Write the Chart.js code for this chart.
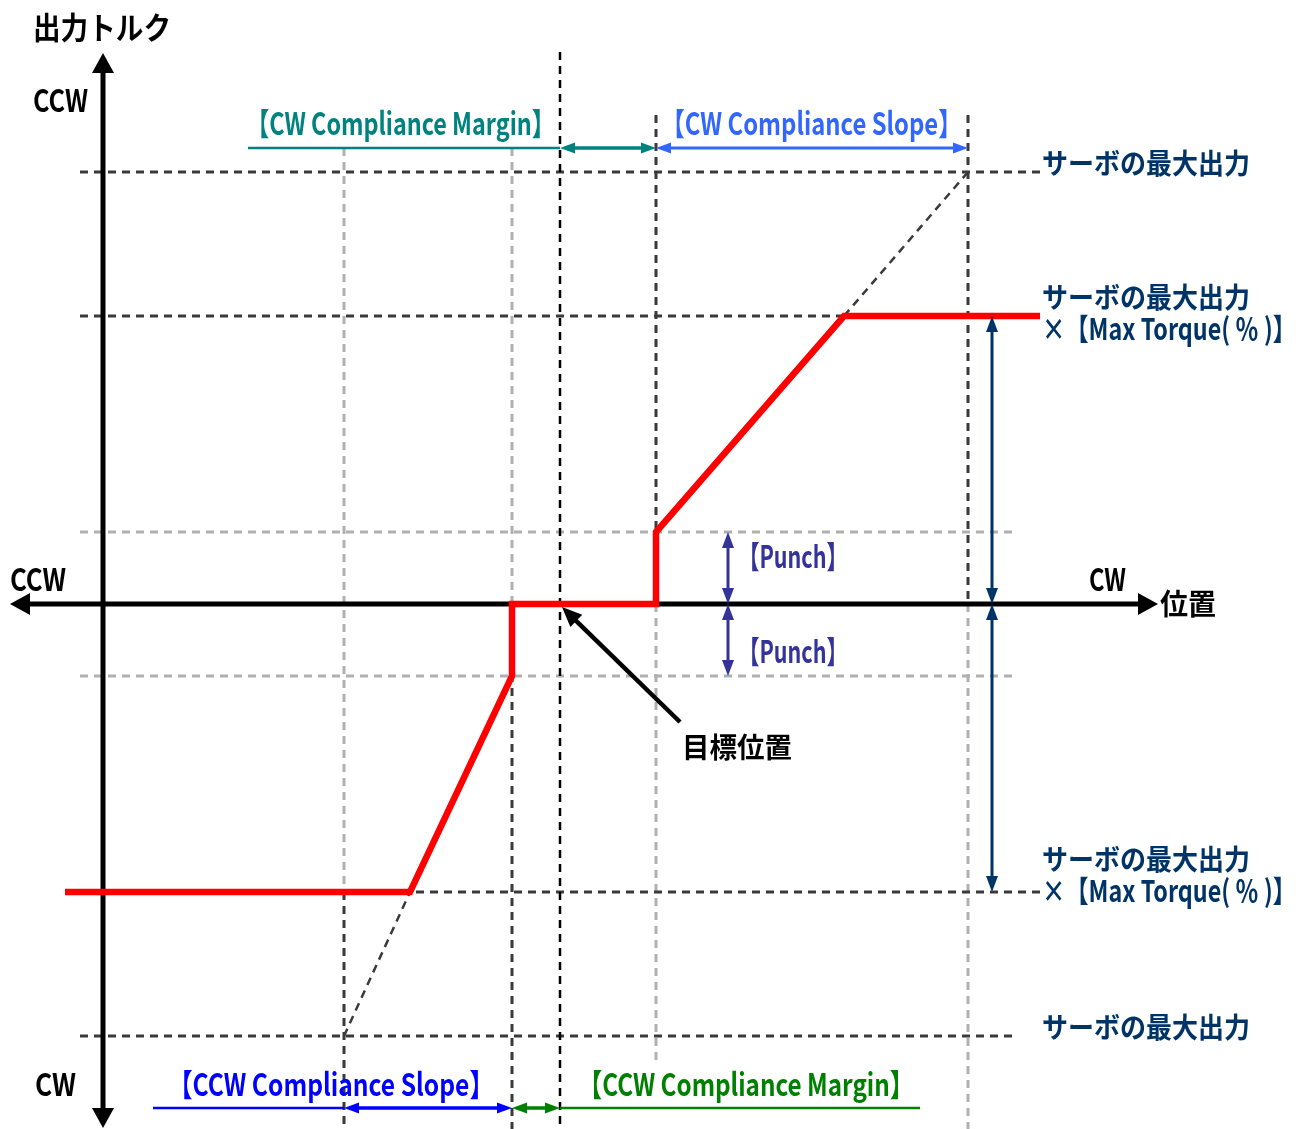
<!DOCTYPE html>
<html>
<head>
<meta charset="utf-8">
<script src="https://cdn.jsdelivr.net/npm/chart.js@4.4.1/dist/chart.umd.min.js"></script>
<style>
  body { margin: 0; background: #fff; }
  #wrap { width: 1298px; height: 1129px; }
</style>
</head>
<body>
<div id="wrap"><canvas id="mycanvas"></canvas></div>
<script>
// position 0 = target position, torque 0 = no output
var redPos    = [-495, -150, -48, -48, 96, 96, 284, 480];
var redTorque = [-288, -288, -72, 0, 0, 72, 288, 288];

var ccwSlope = [-216, -48];   // start / end of CCW compliance slope
var ccwMargin = [-48, 0];
var cwMargin = [0, 96];
var cwSlope = [96, 408];

var maxOut = 432;
var maxTorque = 288;
var punch = 72;

var DARK = '#3a3a3a';
var LIGHT = '#b0b0b0';

function seg(x1, y1, x2, y2) {
    return [{x: x1, y: y1}, {x: x2, y: y2}];
}

var datasets = [];
function addLine(pts, color, width, dash, order) {
    datasets.push({
        data: pts, borderColor: color, borderWidth: width, borderDash: dash || [],
        showLine: true, pointRadius: 0, fill: false, tension: 0, order: order
    });
}

// red torque curve
var redPts = [];
for (var i = 0; i < redPos.length; i++) {
    redPts.push({x: redPos[i], y: redTorque[i]});
}
addLine(redPts, '#ff0000', 6.5, null, 0);

// axes
addLine(seg(-536, 0, 582, 0), '#000', 5, null, 1);
addLine(seg(-457, 535, -457, -508), '#000', 5, null, 1);

// horizontal guides
addLine(seg(-480, maxOut, 480, maxOut), DARK, 3, [8, 6], 3);
addLine(seg(-480, maxTorque, 480, maxTorque), DARK, 3, [8, 6], 3);
addLine(seg(-480, punch, 455, punch), LIGHT, 3, [8, 6], 3);
addLine(seg(-480, -punch, 455, -punch), LIGHT, 3, [8, 6], 3);
addLine(seg(-480, -maxTorque, 480, -maxTorque), DARK, 3, [8, 6], 3);
addLine(seg(-480, -maxOut, 455, -maxOut), DARK, 3, [8, 6], 3);

// vertical guides
addLine(seg(ccwSlope[0], 456, ccwSlope[0], -maxTorque), LIGHT, 3, [8, 6], 3);
addLine(seg(ccwSlope[0], -maxTorque, ccwSlope[0], -525), DARK, 3, [8, 6], 3);
addLine(seg(ccwSlope[1], 456, ccwSlope[1], 0), LIGHT, 3, [8, 6], 3);
addLine(seg(ccwSlope[1], 0, ccwSlope[1], -525), DARK, 3, [8, 6], 3);
addLine(seg(0, 552, 0, -525), '#000', 2.5, [8, 6], 2);
addLine(seg(cwMargin[1], 489, cwMargin[1], 0), DARK, 3, [8, 6], 3);
addLine(seg(cwMargin[1], 0, cwMargin[1], -456), LIGHT, 3, [8, 6], 3);
addLine(seg(cwSlope[1], 489, cwSlope[1], 0), DARK, 3, [8, 6], 3);
addLine(seg(cwSlope[1], 0, cwSlope[1], -525), LIGHT, 3, [8, 6], 3);

// slope extensions up to max output
addLine(seg(ccwSlope[0], -maxOut, -150, -maxTorque), DARK, 2.5, [8, 6], 3);
addLine(seg(284, maxTorque, cwSlope[1], maxOut), DARK, 2.5, [8, 6], 3);

function head(ctx, x, y, ang, len, wid, color) {
    ctx.save();
    ctx.fillStyle = color;
    ctx.translate(x, y);
    ctx.rotate(ang);
    ctx.beginPath();
    ctx.moveTo(0, 0);
    ctx.lineTo(-len, -wid / 2);
    ctx.lineTo(-len, wid / 2);
    ctx.closePath();
    ctx.fill();
    ctx.restore();
}

function arrow(ctx, x1, y1, x2, y2, color, width, len, wid, both) {
    var a = Math.atan2(y2 - y1, x2 - x1);
    ctx.save();
    ctx.strokeStyle = color;
    ctx.lineWidth = width;
    ctx.beginPath();
    ctx.moveTo(x1 + (both ? Math.cos(a) * len * 0.7 : 0), y1 + (both ? Math.sin(a) * len * 0.7 : 0));
    ctx.lineTo(x2 - Math.cos(a) * len * 0.7, y2 - Math.sin(a) * len * 0.7);
    ctx.stroke();
    ctx.restore();
    head(ctx, x2, y2, a, len, wid, color);
    if (both) head(ctx, x1, y1, a + Math.PI, len, wid, color);
}

function fitText(ctx, str, x, y, w, size, color) {
    ctx.save();
    ctx.font = 'bold ' + size + 'px "Liberation Sans Narrow", "Noto Sans CJK JP", sans-serif';
    ctx.fillStyle = color;
    ctx.textBaseline = 'middle';
    ctx.textAlign = 'left';
    var m = ctx.measureText(str).width;
    ctx.translate(x, y);
    ctx.scale(w / m, 1);
    ctx.fillText(str, 0, 0);
    ctx.restore();
}

var labels = [
    // text, left pos, centre torque, width, size, colour
    ['出力トルク', -527, 577, 138, 31, '#000'],
    ['CCW', -527, 504, 55, 31, '#000'],
    ['CCW', -550, 25, 56, 31, '#000'],
    ['CW', 529, 25, 37, 31, '#000'],
    ['位置', 600, 0, 56, 29, '#000'],
    ['CW', -525, -480, 41, 31, '#000'],
    ['【CW Compliance Margin】', -314, 481, 309, 31, '#00827f'],
    ['【CW Compliance Slope】', 101, 481, 301, 31, '#3366ff'],
    ['サーボの最大出力', 482, 441, 208, 28, '#003366'],
    ['サーボの最大出力', 482, 307, 208, 28, '#003366'],
    ['×【Max Torque( ％ )】', 482, 275, 254, 30, '#003366'],
    ['サーボの最大出力', 482, -255, 208, 28, '#003366'],
    ['×【Max Torque( ％ )】', 482, -287, 254, 30, '#003366'],
    ['サーボの最大出力', 482, -423, 208, 28, '#003366'],
    ['【Punch】', 178, 48, 110, 31, '#333399'],
    ['【Punch】', 178, -47, 110, 31, '#333399'],
    ['目標位置', 122, -143, 110, 28, '#000'],
    ['【CCW Compliance Slope】', -392, -480, 326, 31, '#0000ff'],
    ['【CCW Compliance Margin】', 18, -480, 336, 31, '#008000']
];

var annot = {
    id: 'annot',
    afterDatasetsDraw: function(chart) {
        var ctx = chart.ctx;
        var xs = chart.scales.x, ys = chart.scales.y;
        var px = function(v) { return xs.getPixelForValue(v); };
        var py = function(v) { return ys.getPixelForValue(v); };

        // axis heads
        head(ctx, px(598), py(0), 0, 20, 22, '#000');
        head(ctx, px(-550), py(0), Math.PI, 20, 22, '#000');
        head(ctx, px(-457), py(551), -Math.PI / 2, 20, 22, '#000');
        head(ctx, px(-457), py(-524), Math.PI / 2, 20, 22, '#000');

        // top dimension arrows
        ctx.save();
        ctx.strokeStyle = '#00827f'; ctx.lineWidth = 2.5;
        ctx.beginPath(); ctx.moveTo(px(-312), py(456)); ctx.lineTo(px(0), py(456)); ctx.stroke();
        ctx.restore();
        arrow(ctx, px(cwMargin[0]), py(456), px(cwMargin[1]), py(456), '#00827f', 3.5, 15, 11, true);
        arrow(ctx, px(cwSlope[0]), py(456), px(cwSlope[1]), py(456), '#3366ff', 3, 15, 11, true);

        // punch arrows
        arrow(ctx, px(168), py(punch), px(168), py(0), '#333399', 3, 16, 12, true);
        arrow(ctx, px(168), py(0), px(168), py(-punch), '#333399', 3, 16, 12, true);

        // max torque arrows
        arrow(ctx, px(432), py(maxTorque), px(432), py(0), '#003366', 3, 16, 12, true);
        arrow(ctx, px(432), py(0), px(432), py(-maxTorque), '#003366', 3, 16, 12, true);

        // bottom dimension arrows
        ctx.save();
        ctx.lineWidth = 2.5;
        ctx.strokeStyle = '#0000ff';
        ctx.beginPath(); ctx.moveTo(px(-407), py(-504)); ctx.lineTo(px(ccwSlope[0]), py(-504)); ctx.stroke();
        ctx.strokeStyle = '#008000';
        ctx.beginPath(); ctx.moveTo(px(0), py(-504)); ctx.lineTo(px(360), py(-504)); ctx.stroke();
        ctx.restore();
        arrow(ctx, px(ccwSlope[0]), py(-504), px(ccwSlope[1]), py(-504), '#0000ff', 3.5, 15, 11, true);
        arrow(ctx, px(ccwMargin[0]), py(-504), px(ccwMargin[1]), py(-504), '#008000', 3.5, 15, 11, true);

        // target position pointer
        arrow(ctx, px(120), py(-118), px(2), py(-3), '#000', 4.5, 20, 17, false);

        for (var i = 0; i < labels.length; i++) {
            var l = labels[i];
            fitText(ctx, l[0], px(l[1]), py(l[2]), l[3], l[4], l[5]);
        }
    }
};

var ctx = document.getElementById('mycanvas');
var chart = new Chart(ctx, {
    type: 'scatter',
    data: { datasets: datasets },
    options: {
        responsive: true,
        maintainAspectRatio: false,
        animation: false,
        devicePixelRatio: 1,
        layout: { padding: 0 },
        plugins: { legend: { display: false }, tooltip: { enabled: false } },
        scales: {
            x: { type: 'linear', display: false, min: -560, max: 738 },
            y: { type: 'linear', display: false, min: -525, max: 604 }
        }
    },
    plugins: [annot]
});
</script>
</body>
</html>
